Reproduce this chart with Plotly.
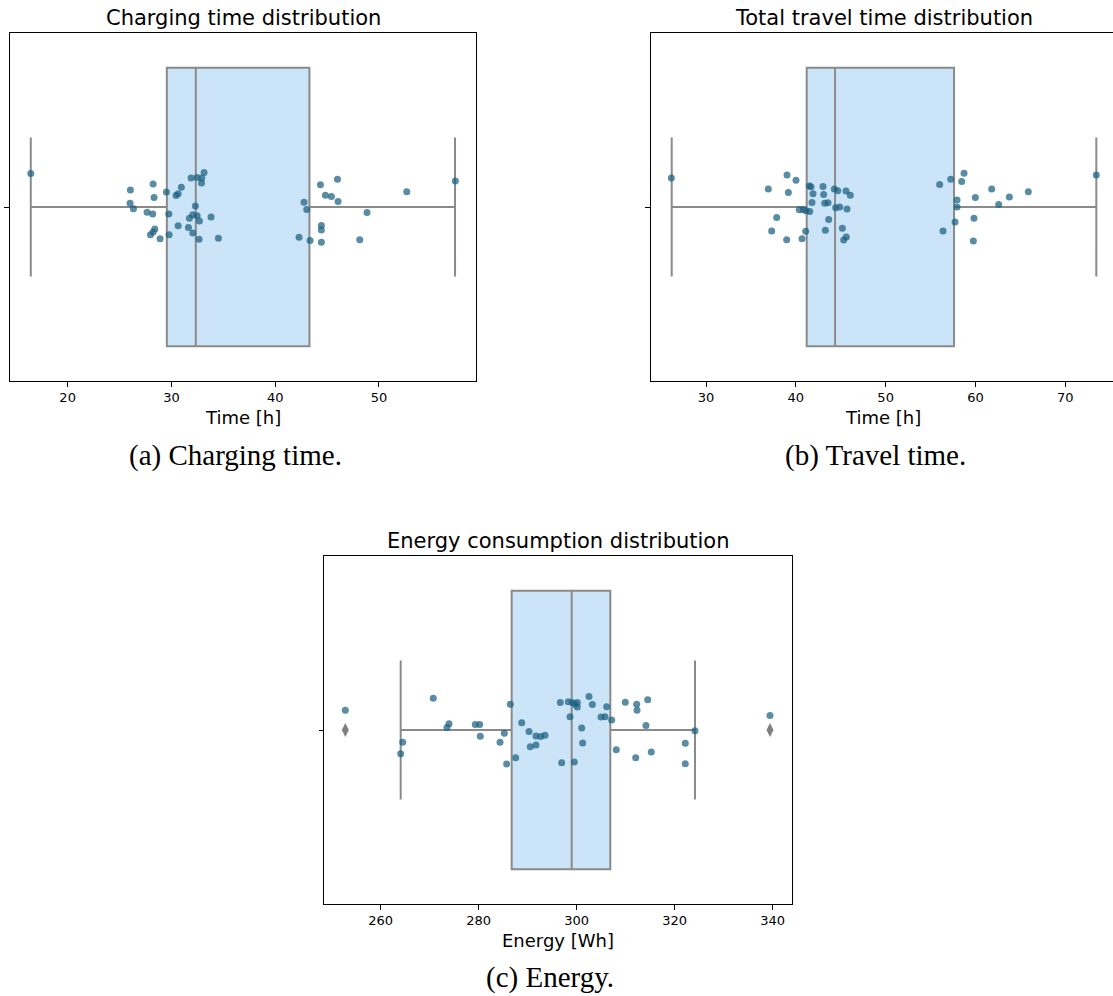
import plotly.graph_objects as go

W, H = 1113, 996

# ---- Charging time [h] ----
charge_x = [16.45, 26.05, 28.24, 28.33, 26.02, 26.34, 27.66, 28.20, 28.40, 28.24,
            27.98, 28.91, 29.52, 29.75, 29.78, 30.45, 30.65, 30.96, 30.65, 31.64,
            31.74, 32.06, 32.06, 31.90, 32.48, 32.93, 33.15, 32.90, 32.31, 32.48,
            32.70, 32.67, 33.82, 34.53, 42.78, 43.04, 42.30, 43.36, 44.45, 44.45,
            44.45, 44.36, 44.84, 45.42, 46.06, 46.00, 48.85, 48.15, 52.68, 57.36]
charge_jit = [0.096, 0.049, 0.066, 0.027, 0.011, -0.005, -0.015, -0.020, -0.063, -0.072,
              -0.080, -0.091, 0.043, -0.020, -0.080, 0.033, 0.038, 0.057, -0.054, -0.059,
              -0.032, -0.022, -0.075, 0.083, 0.085, 0.083, 0.099, 0.069, 0.003, -0.025,
              -0.040, -0.093, -0.029, -0.090, 0.014, -0.007, -0.087, -0.096, -0.053, -0.066,
              -0.101, 0.064, 0.034, 0.030, 0.016, 0.080, -0.016, -0.094, 0.044, 0.075]
charge_stats = dict(lowerfence=16.45, q1=29.56, median=32.35, q3=43.30, upperfence=57.33)

# ---- Total travel time [h] ----
travel_x = [26.14, 39.02, 40.02, 36.94, 39.17, 37.87, 37.31, 38.98, 40.69, 41.10,
            40.39, 40.84, 41.14, 41.55, 41.51, 41.69, 41.92, 41.80, 43.03, 43.10,
            43.22, 43.59, 43.66, 43.29, 44.29, 44.67, 44.44, 44.89, 45.59, 46.07,
            45.70, 45.18, 45.62, 45.33, 56.02, 57.25, 58.73, 58.47, 57.95, 57.95,
            57.73, 56.39, 59.84, 59.77, 59.99, 61.81, 62.59, 63.78, 65.89, 73.46]
travel_jit = [0.083, 0.092, 0.077, 0.052, 0.042, -0.030, -0.069, -0.094, -0.091, -0.070,
              -0.008, -0.008, -0.011, -0.013, 0.060, 0.058, 0.038, 0.013, 0.059, 0.036,
              0.011, 0.012, -0.036, -0.067, 0.052, 0.047, -0.002, 0.000, 0.046, 0.034,
              -0.006, -0.061, -0.086, -0.095, 0.065, 0.080, 0.097, 0.073, 0.020, 0.000,
              -0.043, -0.069, -0.032, -0.098, 0.027, 0.052, 0.007, 0.029, 0.044, 0.092]
travel_stats = dict(lowerfence=26.18, q1=41.21, median=44.37, q3=57.62, upperfence=73.46)

# ---- Energy consumption [Wh] ----
energy_x = [252.78, 264.49, 264.08, 270.73, 273.94, 273.53, 279.31, 280.20, 280.33, 284.35,
            285.23, 285.71, 286.45, 287.55, 288.78, 290.27, 291.69, 292.65, 293.53, 290.53,
            291.69, 296.65, 296.94, 298.29, 298.63, 299.10, 299.65, 300.13, 300.13, 301.02,
            301.22, 299.51, 302.51, 303.19, 304.96, 305.78, 306.12, 307.14, 308.08, 309.92,
            312.24, 312.31, 314.49, 314.14, 312.04, 315.22, 322.16, 322.16, 324.14, 339.45]
energy_jit = [0.057, -0.035, -0.068, 0.091, 0.018, 0.007, 0.016, 0.016, -0.018, -0.035,
              -0.009, -0.098, 0.074, -0.080, 0.021, -0.004, -0.017, -0.019, -0.015, -0.048,
              -0.043, 0.079, -0.094, 0.081, 0.038, 0.079, 0.074, 0.079, 0.066, 0.006,
              -0.037, -0.092, 0.096, 0.073, 0.037, 0.038, 0.067, 0.029, -0.057, 0.080,
              0.074, 0.057, 0.087, 0.013, -0.080, -0.063, -0.038, -0.097, -0.002, 0.042]
energy_stats = dict(lowerfence=264.08, q1=286.73, median=298.98, q3=306.86, upperfence=324.14)
energy_outliers = [252.78, 339.45]

charge_ticks = [20, 30, 40, 50]
travel_ticks = [30, 40, 50, 60, 70]
energy_ticks = [260, 280, 300, 320, 340]

BOX_FILL = "#cbe4f7"
BOX_LINE = "#8a8a8a"
DOT = "rgba(26,95,128,0.72)"
AX_FONT = "DejaVu Sans"

fig = go.Figure()

panels = [
    ("x", "y", charge_x, charge_jit, charge_stats, []),
    ("x2", "y2", travel_x, travel_jit, travel_stats, []),
    ("x3", "y3", energy_x, energy_jit, energy_stats, energy_outliers),
]

for xa, ya, xs, js, st, outl in panels:
    fig.add_trace(go.Box(
        orientation="h", y=[0],
        q1=[st["q1"]], median=[st["median"]], q3=[st["q3"]],
        lowerfence=[st["lowerfence"]], upperfence=[st["upperfence"]],
        width=0.8, whiskerwidth=0.5,
        fillcolor=BOX_FILL, line=dict(color=BOX_LINE, width=2),
        boxpoints=False, showlegend=False, hoverinfo="skip",
        xaxis=xa, yaxis=ya,
    ))
    if outl:
        fig.add_trace(go.Scatter(
            x=outl, y=[0] * len(outl), mode="markers",
            marker=dict(symbol="diamond-tall", size=10, color="#7f7f7f", line=dict(width=0)),
            showlegend=False, hoverinfo="skip", xaxis=xa, yaxis=ya,
        ))
    fig.add_trace(go.Scatter(
        x=xs, y=js, mode="markers",
        marker=dict(size=7, color=DOT, line=dict(width=0)),
        showlegend=False, hoverinfo="skip", xaxis=xa, yaxis=ya,
    ))


def xaxis_style(domain, rng, ticks, anchor):
    return dict(domain=domain, range=rng, anchor=anchor, tickvals=ticks,
                showgrid=False, zeroline=False, showline=True, mirror=True,
                linecolor="black", linewidth=1, ticks="outside", ticklen=4.5,
                tickwidth=1, tickcolor="black",
                tickfont=dict(family=AX_FONT, size=13, color="black"))


def yaxis_style(domain, anchor, mirror=True):
    return dict(domain=domain, range=[-0.5, 0.5], anchor=anchor,
                tickvals=[0], ticktext=[""], showgrid=False, zeroline=False,
                showline=True, mirror=mirror, linecolor="black", linewidth=1,
                ticks="outside", ticklen=4.5, tickwidth=1, tickcolor="black")


top = [1 - 381 / H, 1 - 33 / H]
bot = [1 - 904 / H, 1 - 556 / H]

fig.update_layout(
    width=W, height=H, margin=dict(l=0, r=0, t=0, b=0),
    paper_bgcolor="white", plot_bgcolor="white",
    xaxis=xaxis_style([9.5 / W, 476 / W], [14.4, 59.35], charge_ticks, "y"),
    yaxis=yaxis_style(top, "x"),
    xaxis2=xaxis_style([650.7 / W, 1.0], [23.84, 75.32], travel_ticks, "y2"),
    yaxis2=yaxis_style(top, "x2", mirror=False),
    xaxis3=xaxis_style([324.3 / W, 791.7 / W], [248.49, 343.88], energy_ticks, "y3"),
    yaxis3=yaxis_style(bot, "x3"),
)

texts = [
    ("Charging time distribution", 243, 18, AX_FONT, 21),
    ("Total travel time distribution", 884, 18, AX_FONT, 21),
    ("Energy consumption distribution", 558, 541, AX_FONT, 21),
    ("Time [h]", 243, 417, AX_FONT, 18),
    ("Time [h]", 883, 417, AX_FONT, 18),
    ("Energy [Wh]", 557.5, 940, AX_FONT, 18),
    ("(a) Charging time.", 235.5, 456, "Liberation Serif", 29),
    ("(b) Travel time.", 875.5, 456, "Liberation Serif", 29),
    ("(c) Energy.", 549.5, 977, "Liberation Serif", 29),
]
for txt, cx, cy, fam, sz in texts:
    fig.add_annotation(text=txt, x=cx / W, y=1 - cy / H, xref="paper", yref="paper",
                       xanchor="center", yanchor="middle", showarrow=False,
                       font=dict(family=fam, size=sz, color="black"))

fig.write_html("out.html")
